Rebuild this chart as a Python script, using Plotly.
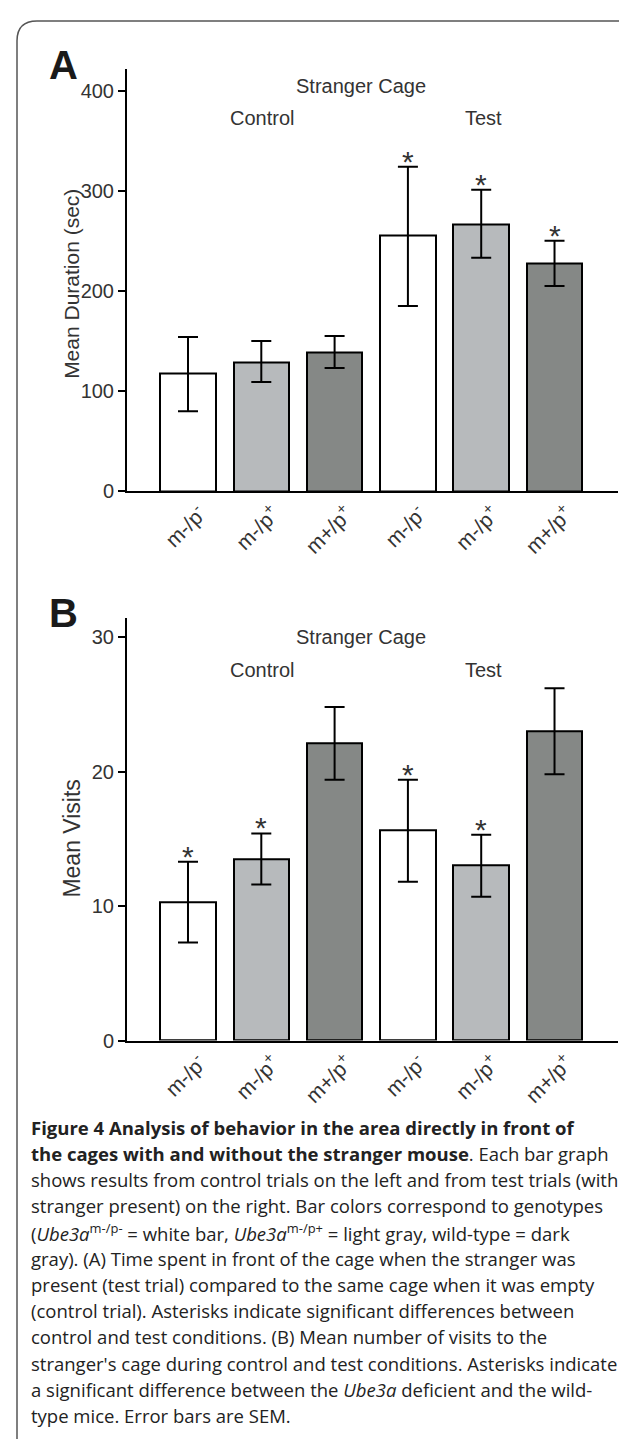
import plotly.graph_objects as go

W, H = 627, 1439

# ---------------- data ----------------
genotypes = ["m-/p<sup>-</sup>", "m-/p<sup>+</sup>", "m+/p<sup>+</sup>",
             "m-/p<sup>-</sup>", "m-/p<sup>+</sup>", "m+/p<sup>+</sup>"]
bar_colors = ["#ffffff", "#b7babc", "#858886", "#ffffff", "#b7babc", "#858886"]

# Panel A: mean duration (sec)
duration_mean = [118, 129, 139, 255, 266, 227]
duration_err_plus = [36, 21, 16, 69, 35, 23]
duration_err_minus = [38, 20, 16, 70, 33, 22]
duration_star = [False, False, False, True, True, True]
duration_ticks = [0, 100, 200, 300, 400]

# Panel B: mean visits
visits_mean = [10.3, 13.5, 22.1, 15.6, 13.0, 23.0]
visits_err = [3.0, 1.9, 2.7, 3.8, 2.3, 3.2]
visits_star = [True, True, False, True, True, False]
visits_ticks = [0, 10, 20, 30]

caption_lines = [
    "<b>Figure 4 Analysis of behavior in the area directly in front of</b>",
    "<b>the cages with and without the stranger mouse</b>. Each bar graph",
    "shows results from control trials on the left and from test trials (with",
    "stranger present) on the right. Bar colors correspond to genotypes",
    "(<i>Ube3a</i><sup>m-/p-</sup> = white bar, <i>Ube3a</i><sup>m-/p+</sup> = light gray, wild-type = dark",
    "gray). (A) Time spent in front of the cage when the stranger was",
    "present (test trial) compared to the same cage when it was empty",
    "(control trial). Asterisks indicate significant differences between",
    "control and test conditions. (B) Mean number of visits to the",
    "stranger's cage during control and test conditions. Asterisks indicate",
    "a significant difference between the <i>Ube3a</i> deficient and the wild-",
    "type mice. Error bars are SEM.",
]

# ---------------- helpers ----------------
def fx(px):
    return px / W


def fy(py):
    return 1 - py / H


xpos = list(range(len(genotypes)))
FONT = "Liberation Sans, Arial, sans-serif"
TXT = "#333333"

fig = go.Figure()

fig.add_trace(go.Bar(
    x=xpos, y=duration_mean, width=0.757,
    marker=dict(color=bar_colors, line=dict(color="black", width=2)),
    error_y=dict(type="data", array=duration_err_plus, arrayminus=duration_err_minus,
                 symmetric=False, color="black", thickness=2, width=10),
    xaxis="x", yaxis="y", showlegend=False,
))
fig.add_trace(go.Bar(
    x=xpos, y=visits_mean, width=0.757,
    marker=dict(color=bar_colors, line=dict(color="black", width=2)),
    error_y=dict(type="data", array=visits_err, color="black", thickness=2, width=10),
    xaxis="x2", yaxis="y2", showlegend=False,
))

xr = [-0.832, 5.866]
common_x = dict(range=xr, showline=True, linewidth=2, linecolor="black",
                ticks="", tickmode="array", tickvals=xpos, ticktext=genotypes,
                tickangle=-45, ticklabelshift=12,
                tickfont=dict(family=FONT, size=21, color=TXT),
                showgrid=False, zeroline=False, fixedrange=True)
common_y = dict(showline=True, linewidth=2, linecolor="black", ticks="outside",
                ticklen=7, tickwidth=2, tickcolor="black",
                tickfont=dict(family=FONT, size=20, color=TXT),
                showgrid=False, zeroline=False, fixedrange=True)

fig.update_layout(
    width=W, height=H,
    margin=dict(l=0, r=0, t=0, b=0),
    paper_bgcolor="white", plot_bgcolor="white",
    bargap=0,
    xaxis=dict(domain=[fx(119), fx(610)], anchor="y", **common_x),
    yaxis=dict(domain=[fy(487), fy(61)], range=[0, 422], anchor="x",
               tickvals=duration_ticks, **common_y),
    xaxis2=dict(domain=[fx(119), fx(610)], anchor="y2", **common_x),
    yaxis2=dict(domain=[fy(1040.5), fy(615)], range=[0, 31.4], anchor="x2",
                tickvals=visits_ticks, **common_y),
)

annotations = []
STAR = dict(family=FONT, size=30, color=TXT)
for i, s in enumerate(duration_star):
    if s:
        annotations.append(dict(x=xpos[i], y=duration_mean[i] + duration_err_plus[i],
                                xref="x", yref="y", text="*", showarrow=False,
                                yanchor="bottom", yshift=-13, font=STAR))
for i, s in enumerate(visits_star):
    if s:
        annotations.append(dict(x=xpos[i], y=visits_mean[i] + visits_err[i],
                                xref="x2", yref="y2", text="*", showarrow=False,
                                yanchor="bottom", yshift=-13, font=STAR))


def ptext(text, px, py, size=20, color=TXT, bold=False, angle=0, xanchor="center", family=FONT):
    annotations.append(dict(x=fx(px), y=fy(py), xref="paper", yref="paper",
                            text=f"<b>{text}</b>" if bold else text,
                            showarrow=False, xanchor=xanchor, yanchor="middle",
                            textangle=angle,
                            font=dict(family=family, size=size, color=color)))


# panel A texts
ptext("A", 55, 57, size=40, color="#1a1a1a", bold=True)
ptext("Stranger Cage", 353, 79)
ptext("Control", 254, 111)
ptext("Test", 475, 111)
ptext("Mean Duration (sec)", 64, 278, size=21, angle=-90)
# panel B texts
ptext("B", 55, 610, size=40, color="#1a1a1a", bold=True)
ptext("Stranger Cage", 353, 634)
ptext("Control", 254, 667)
ptext("Test", 475, 667)
ptext("Mean Visits", 64, 837, size=23, angle=-90)

# caption
for k, line in enumerate(caption_lines):
    ptext(line, 21, 1128 + 26.4 * k, size=18.5, color="#222222", xanchor="left",
          family="Open Sans, sans-serif")

fig.update_layout(annotations=annotations)

# rounded frame around the figure
r = 20
frame_path = (f"M {fx(9)},{fy(1460)} L {fx(9)},{fy(13 + r)} "
              f"Q {fx(9)},{fy(13)} {fx(9 + r)},{fy(13)} L {fx(660)},{fy(13)}")
fig.add_shape(type="path", path=frame_path, xref="paper", yref="paper",
              line=dict(color="#555555", width=1.5))

fig.write_html("out.html")
